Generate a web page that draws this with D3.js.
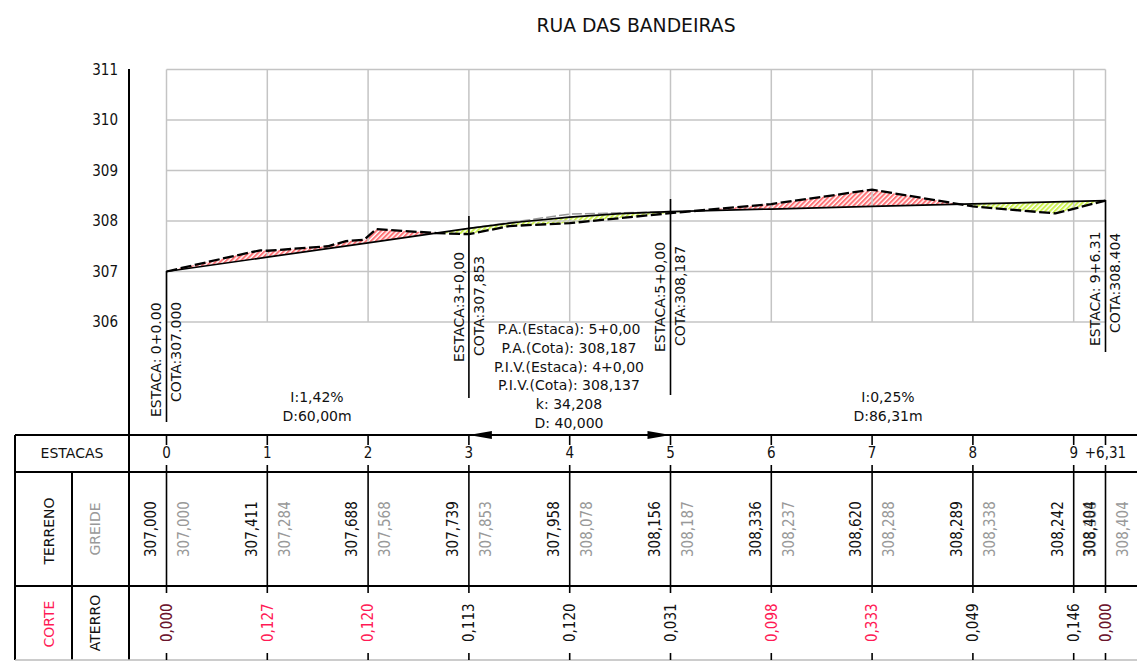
<!DOCTYPE html>
<html>
<head>
<meta charset="utf-8">
<script src="https://cdn.jsdelivr.net/npm/d3@7"></script>
<style>
  html, body { margin: 0; padding: 0; background: #fff; }
  svg { display: block; }
  text { font-family: "DejaVu Sans"; font-size: 14px; fill: #111; }
  text.num { font-stretch: condensed; font-size: 15px; }
</style>
</head>
<body>
<div id="chart"></div>
<script>
const title = "RUA DAS BANDEIRAS";

const elevTicks = [306, 307, 308, 309, 310, 311];
const stations = [0, 1, 2, 3, 4, 5, 6, 7, 8, 9, 9.3155];
const stationLabels = ["0", "1", "2", "3", "4", "5", "6", "7", "8", "9", "+6,31"];

// table columns
const terreno = ["307,000", "307,411", "307,688", "307,739", "307,958", "308,156", "308,336", "308,620", "308,289", "308,242", "308,404"];
const greide = ["307,000", "307,284", "307,568", "307,853", "308,078", "308,187", "308,237", "308,288", "308,338", "308,388", "308,404"];
const corte = ["0,000", "0,127", "0,120", "", "", "", "0,098", "0,333", "", "", "0,000"];
const aterro = ["0,000", "", "", "0,113", "0,120", "0,031", "", "", "0,049", "0,146", "0,000"];

// terrain vertices (includes the breaks between stations)
const terrainSt = [0, 0.63, 0.93, 1, 1.6, 1.78, 1.96, 2.08, 2.68, 3, 3.4, 4, 5, 6, 7, 8, 8.82, 9.3155];
const terrainEl = [307, 307.29, 307.42, 307.411, 307.5, 307.6, 307.63, 307.84, 307.76, 307.739, 307.9, 307.958, 308.156, 308.336, 308.62, 308.289, 308.15, 308.404];

// finished grade, parabola read at half stations too
const gradeSt = [0, 1, 2, 3, 3.5, 4, 4.5, 5, 6, 7, 8, 9, 9.3155];
const gradeEl = [307, 307.284, 307.568, 307.853, 307.98, 308.078, 308.145, 308.187, 308.237, 308.288, 308.338, 308.388, 308.404];

// tangents through the P.I.V.
const tangentSt = [3, 4, 5];
const tangentEl = [307.853, 308.137, 308.187];

const curveInfo = ["P.A.(Estaca): 5+0,00", "P.A.(Cota): 308,187", "P.I.V.(Estaca): 4+0,00", "P.I.V.(Cota): 308,137", "k: 34,208", "D: 40,000"];

const width = 1137, height = 661;
const rowTop = 435, rowMid = 472, rowLow = 586, rowEnd = 660;
const colLeft = 15, colMid = 72, colAxis = 129;
const red = "#ff1a55", grey = "#999";

const x = d3.scaleLinear().domain([0, 9.3155]).range([166.5, 1105.5]);
const y = d3.scaleLinear().domain([306, 311]).range([322, 69.5]);

const svg = d3.select("#chart").append("svg").attr("width", width).attr("height", height);
const defs = svg.append("defs");

function hatch(id, color) {
  const p = defs.append("pattern").attr("id", id)
    .attr("width", 3.4).attr("height", 3.4)
    .attr("patternUnits", "userSpaceOnUse")
    .attr("patternTransform", "rotate(45)");
  p.append("rect").attr("width", 3.4).attr("height", 3.4).attr("fill", "#fff");
  p.append("rect").attr("width", 2).attr("height", 3.4).attr("fill", color);
}
hatch("hatch-corte", "#ff7478");
hatch("hatch-aterro", "#cdf250");

const gradePts = gradeSt.map((s, i) => [x(s), y(gradeEl[i])]);
const terrainPts = terrainSt.map((s, i) => [x(s), y(terrainEl[i])]);
const tangentPts = tangentSt.map((s, i) => [x(s), y(tangentEl[i])]);
const line = d3.line();

// clip the terrain/grade polygon on each side of the grade line
const above = [...gradePts, [x(9.3155), y(311)], [x(0), y(311)]];
const below = [...gradePts, [x(9.3155), y(306)], [x(0), y(306)]];
defs.append("clipPath").attr("id", "clip-above").append("path").attr("d", line(above) + "Z");
defs.append("clipPath").attr("id", "clip-below").append("path").attr("d", line(below) + "Z");

// cut and fill
const between = line([...terrainPts, ...gradePts.slice().reverse()]) + "Z";
svg.append("path").attr("d", between).attr("fill", "url(#hatch-corte)").attr("clip-path", "url(#clip-above)");
svg.append("path").attr("d", between).attr("fill", "url(#hatch-aterro)").attr("clip-path", "url(#clip-below)");

// grid
const grid = svg.append("g").attr("stroke", "#c4c4c4").attr("stroke-width", 1.5);
grid.selectAll(".gv").data(stations).join("line")
  .attr("x1", d => x(d)).attr("x2", d => x(d))
  .attr("y1", y(311)).attr("y2", y(306));
grid.selectAll(".gh").data(elevTicks).join("line")
  .attr("x1", x(0)).attr("x2", x(9.3155))
  .attr("y1", d => y(d)).attr("y2", d => y(d));

svg.append("path").attr("d", line(tangentPts)).attr("fill", "none")
  .attr("stroke", "#999").attr("stroke-width", 1.5).attr("stroke-dasharray", "10,3");
svg.append("path").attr("d", line(gradePts)).attr("fill", "none")
  .attr("stroke", "#000").attr("stroke-width", 1.7);
svg.append("path").attr("d", line(terrainPts)).attr("fill", "none")
  .attr("stroke", "#000").attr("stroke-width", 2.3).attr("stroke-dasharray", "11,3.5");

// elevation labels
const yAxis = svg.append("g")
  .attr("transform", "translate(118,0)")
  .call(d3.axisLeft(y).tickValues(elevTicks).tickSize(0).tickPadding(0).tickFormat(d3.format("d")));
yAxis.select(".domain").remove();
yAxis.selectAll("text").attr("class", "num").style("font-family", "DejaVu Sans").style("font-size", "15px");

function vText(px, py, str, anchor, color, cls) {
  return svg.append("text")
    .attr("class", cls || null)
    .attr("transform", `translate(${px},${py}) rotate(-90)`)
    .attr("text-anchor", anchor || "start")
    .attr("dy", "0.35em")
    .style("fill", color || "#111")
    .text(str);
}
function hText(px, py, str, cls) {
  return svg.append("text")
    .attr("class", cls || null)
    .attr("x", px).attr("y", py)
    .attr("dy", "0.35em")
    .attr("text-anchor", "middle")
    .text(str);
}

// table frame
const frame = svg.append("g").attr("stroke", "#000").attr("stroke-width", 2);
[rowTop, rowMid, rowLow].forEach(r => {
  frame.append("line").attr("x1", colLeft).attr("x2", width).attr("y1", r).attr("y2", r);
});
frame.append("line").attr("x1", colAxis).attr("x2", colAxis).attr("y1", 69).attr("y2", rowEnd);
frame.append("line").attr("x1", colLeft).attr("x2", colLeft).attr("y1", rowTop).attr("y2", rowEnd);
frame.append("line").attr("x1", colMid).attr("x2", colMid).attr("y1", rowMid).attr("y2", rowEnd);
svg.append("line").attr("x1", colLeft).attr("x2", width).attr("y1", rowEnd).attr("y2", rowEnd)
  .attr("stroke", "#bbb").attr("stroke-width", 1.5);

// station ticks through the table
const tickSpans = [[rowTop, rowTop + 10], [rowMid - 7, rowMid], [rowMid, rowLow], [rowLow, rowLow + 7], [rowEnd - 7, rowEnd]];
stations.forEach(s => {
  tickSpans.forEach(sp => {
    svg.append("line").attr("x1", x(s)).attr("x2", x(s)).attr("y1", sp[0]).attr("y2", sp[1])
      .attr("stroke", "#000").attr("stroke-width", 1.6);
  });
});

// table headers
hText(72, 453, "ESTACAS");
vText(49, 531, "TERRENO", "middle");
vText(95, 529, "GREIDE", "middle", grey);
vText(49, 624, "CORTE", "middle", red);
vText(95, 623, "ATERRO", "middle");

// table values
stations.forEach((s, i) => {
  hText(x(s), 453, stationLabels[i], "num");
  vText(x(s) - 16, 557, terreno[i], "start", "#111", "num");
  vText(x(s) + 17, 557, greide[i], "start", grey, "num");
  if (aterro[i]) vText(x(s), 642, aterro[i], "start", "#111", "num");
  // where both columns read 0,000 the red one prints over the black
  if (corte[i]) vText(x(s), 642, corte[i], "start", red, "num").style("fill-opacity", aterro[i] ? 0.4 : 1);
});

// station call-outs
const callouts = [
  { st: 0, top: 271, bottom: 422, a: "ESTACA: 0+0.00", b: "COTA:307.000", ay: 417, by: 402 },
  { st: 3, top: 216, bottom: 398, a: "ESTACA:3+0,00", b: "COTA:307,853", ay: 362, by: 356 },
  { st: 5, top: 199, bottom: 395, a: "ESTACA:5+0,00", b: "COTA:308,187", ay: 352, by: 346 },
  { st: 9.3155, top: 200, bottom: 352, a: "ESTACA: 9+6.31", b: "COTA:308.404", ay: 346, by: 333 }
];
callouts.forEach(c => {
  svg.append("line").attr("x1", x(c.st)).attr("x2", x(c.st)).attr("y1", c.top).attr("y2", c.bottom)
    .attr("stroke", "#000").attr("stroke-width", 1.6);
  vText(x(c.st) - 10, c.ay, c.a);
  vText(x(c.st) + 10, c.by, c.b);
});

// slopes
hText(317, 397, "I:1,42%");
hText(317, 416, "D:60,00m");
hText(888, 397, "I:0,25%");
hText(888, 416, "D:86,31m");

// vertical curve block
curveInfo.forEach((t, i) => hText(569, 329 + i * 18.8, t));

// curve extent arrows
[[3, 23], [5, -23]].forEach(([s, dx]) => {
  svg.append("path")
    .attr("d", line([[x(s), rowTop], [x(s) + dx, rowTop - 4], [x(s) + dx, rowTop + 4]]) + "Z")
    .attr("fill", "#000");
});

svg.append("text").attr("x", 636).attr("y", 25).attr("dy", "0.35em")
  .attr("text-anchor", "middle").style("font-size", "18.8px").text(title);
</script>
</body>
</html>
